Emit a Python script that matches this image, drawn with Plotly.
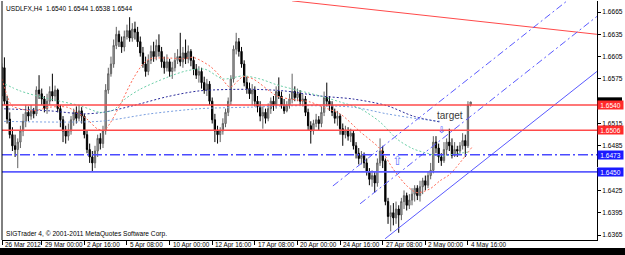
import plotly.graph_objects as go

# ---------------- data ----------------
bar_open = [1.6560,1.6552,1.6590,1.6545,1.6521,1.6500,1.6485,1.6480,1.6490,1.6505,
            1.6518,1.6530,1.6525,1.6532,1.6528,1.6560,1.6555,1.6548,1.6535,1.6545,
            1.6558,1.6552,1.6560,1.6535,1.6520,1.6505,1.6498,1.6505,1.6520,1.6530,
            1.6522,1.6532,1.6525,1.6500,1.6480,1.6470,1.6462,1.6478,1.6495,1.6488,
            1.6505,1.6560,1.6582,1.6595,1.6620,1.6635,1.6625,1.6618,1.6632,1.6640,
            1.6630,1.6642,1.6638,1.6625,1.6610,1.6595,1.6585,1.6600,1.6612,1.6605,
            1.6620,1.6612,1.6598,1.6590,1.6598,1.6585,1.6590,1.6600,1.6605,1.6598,
            1.6610,1.6602,1.6612,1.6600,1.6588,1.6580,1.6585,1.6570,1.6560,1.6568,
            1.6545,1.6520,1.6505,1.6500,1.6505,1.6515,1.6530,1.6545,1.6575,1.6615,
            1.6625,1.6612,1.6595,1.6570,1.6562,1.6555,1.6560,1.6545,1.6538,1.6525,
            1.6530,1.6522,1.6535,1.6545,1.6540,1.6558,1.6552,1.6540,1.6532,1.6540,
            1.6548,1.6558,1.6550,1.6555,1.6545,1.6548,1.6530,1.6512,1.6505,1.6515,
            1.6520,1.6515,1.6530,1.6550,1.6545,1.6540,1.6530,1.6522,1.6525,1.6508,
            1.6500,1.6505,1.6498,1.6502,1.6485,1.6475,1.6468,1.6472,1.6462,1.6450,
            1.6440,1.6445,1.6435,1.6462,1.6478,1.6465,1.6410,1.6390,1.6395,1.6388,
            1.6400,1.6392,1.6410,1.6418,1.6405,1.6412,1.6420,1.6428,1.6418,1.6430,
            1.6438,1.6432,1.6445,1.6452,1.6490,1.6482,1.6470,1.6465,1.6480,1.6490,
            1.6485,1.6472,1.6480,1.6478,1.6485,1.6492,1.6485,1.6540]
bar_high = [1.6568,1.6596,1.6604,1.6552,1.6530,1.6510,1.6500,1.6495,1.6512,1.6528,
            1.6540,1.6538,1.6540,1.6536,1.6565,1.6580,1.6562,1.6552,1.6555,1.6565,
            1.6582,1.6566,1.6562,1.6540,1.6525,1.6512,1.6515,1.6525,1.6535,1.6538,
            1.6540,1.6537,1.6528,1.6505,1.6488,1.6478,1.6485,1.6500,1.6502,1.6512,
            1.6568,1.6590,1.6605,1.6628,1.6645,1.6640,1.6632,1.6640,1.6648,1.6658,
            1.6650,1.6652,1.6645,1.6632,1.6618,1.6605,1.6608,1.6620,1.6625,1.6628,
            1.6635,1.6618,1.6605,1.6608,1.6602,1.6598,1.6610,1.6615,1.6637,1.6618,
            1.6628,1.6620,1.6615,1.6605,1.6595,1.6592,1.6590,1.6578,1.6575,1.6572,
            1.6550,1.6528,1.6512,1.6510,1.6522,1.6535,1.6550,1.6580,1.6620,1.6637,
            1.6630,1.6618,1.6600,1.6578,1.6570,1.6568,1.6565,1.6552,1.6545,1.6538,
            1.6535,1.6542,1.6550,1.6552,1.6565,1.6577,1.6558,1.6548,1.6545,1.6555,
            1.6582,1.6565,1.6562,1.6560,1.6555,1.6552,1.6535,1.6518,1.6520,1.6528,
            1.6525,1.6538,1.6558,1.6570,1.6552,1.6545,1.6535,1.6532,1.6528,1.6515,
            1.6512,1.6510,1.6508,1.6505,1.6490,1.6482,1.6478,1.6476,1.6468,1.6455,
            1.6452,1.6450,1.6468,1.6495,1.6485,1.6468,1.6415,1.6405,1.6408,1.6410,
            1.6405,1.6415,1.6425,1.6422,1.6420,1.6428,1.6432,1.6432,1.6438,1.6442,
            1.6445,1.6450,1.6462,1.6498,1.6498,1.6488,1.6475,1.6490,1.6495,1.6508,
            1.6495,1.6490,1.6485,1.6490,1.6502,1.6500,1.6545,1.6544]
bar_low = [1.6548,1.6548,1.6540,1.6515,1.6495,1.6478,1.6470,1.6455,1.6482,1.6498,
           1.6510,1.6518,1.6520,1.6522,1.6525,1.6548,1.6540,1.6530,1.6528,1.6540,
           1.6545,1.6545,1.6530,1.6510,1.6490,1.6488,1.6492,1.6500,1.6512,1.6515,
           1.6518,1.6515,1.6495,1.6475,1.6462,1.6450,1.6455,1.6470,1.6480,1.6482,
           1.6500,1.6555,1.6578,1.6590,1.6615,1.6618,1.6610,1.6612,1.6628,1.6625,
           1.6625,1.6628,1.6618,1.6605,1.6590,1.6578,1.6580,1.6595,1.6598,1.6600,
           1.6605,1.6590,1.6582,1.6585,1.6578,1.6575,1.6585,1.6595,1.6592,1.6590,
           1.6595,1.6596,1.6592,1.6580,1.6575,1.6570,1.6562,1.6555,1.6552,1.6540,
           1.6515,1.6490,1.6488,1.6490,1.6500,1.6510,1.6525,1.6540,1.6570,1.6608,
           1.6605,1.6590,1.6565,1.6555,1.6548,1.6540,1.6538,1.6530,1.6518,1.6508,
           1.6515,1.6518,1.6528,1.6532,1.6535,1.6548,1.6535,1.6528,1.6530,1.6535,
           1.6542,1.6545,1.6545,1.6540,1.6538,1.6525,1.6505,1.6488,1.6500,1.6510,
           1.6505,1.6510,1.6525,1.6538,1.6532,1.6525,1.6515,1.6512,1.6500,1.6485,
           1.6495,1.6492,1.6490,1.6480,1.6468,1.6460,1.6460,1.6455,1.6445,1.6432,
           1.6430,1.6422,1.6430,1.6458,1.6455,1.6405,1.6380,1.6370,1.6378,1.6380,
           1.6368,1.6385,1.6400,1.6398,1.6400,1.6405,1.6410,1.6412,1.6410,1.6420,
           1.6425,1.6428,1.6440,1.6448,1.6475,1.6462,1.6458,1.6462,1.6472,1.6478,
           1.6468,1.6470,1.6470,1.6475,1.6480,1.6470,1.6482,1.6538]
bar_close = [1.6552,1.6591,1.6545,1.6521,1.6500,1.6485,1.6480,1.6490,1.6505,1.6518,
             1.6530,1.6525,1.6532,1.6528,1.6560,1.6555,1.6548,1.6535,1.6545,1.6558,
             1.6552,1.6560,1.6535,1.6520,1.6505,1.6498,1.6505,1.6520,1.6530,1.6522,
             1.6532,1.6525,1.6500,1.6480,1.6470,1.6462,1.6478,1.6495,1.6488,1.6505,
             1.6560,1.6582,1.6595,1.6620,1.6635,1.6625,1.6618,1.6632,1.6640,1.6630,
             1.6642,1.6638,1.6625,1.6610,1.6595,1.6585,1.6600,1.6612,1.6605,1.6620,
             1.6612,1.6598,1.6590,1.6598,1.6585,1.6590,1.6600,1.6605,1.6598,1.6610,
             1.6602,1.6612,1.6600,1.6588,1.6580,1.6585,1.6570,1.6560,1.6568,1.6545,
             1.6520,1.6505,1.6500,1.6505,1.6515,1.6530,1.6545,1.6575,1.6615,1.6625,
             1.6612,1.6595,1.6570,1.6562,1.6555,1.6560,1.6545,1.6538,1.6525,1.6530,
             1.6522,1.6535,1.6545,1.6540,1.6558,1.6552,1.6540,1.6532,1.6540,1.6548,
             1.6558,1.6550,1.6555,1.6545,1.6548,1.6530,1.6512,1.6505,1.6515,1.6520,
             1.6515,1.6530,1.6550,1.6545,1.6540,1.6530,1.6522,1.6525,1.6508,1.6500,
             1.6505,1.6498,1.6502,1.6485,1.6475,1.6468,1.6472,1.6462,1.6450,1.6440,
             1.6445,1.6435,1.6462,1.6478,1.6465,1.6410,1.6390,1.6395,1.6388,1.6400,
             1.6392,1.6410,1.6418,1.6405,1.6412,1.6420,1.6428,1.6418,1.6430,1.6438,
             1.6432,1.6445,1.6452,1.6490,1.6482,1.6470,1.6465,1.6480,1.6490,1.6485,
             1.6472,1.6480,1.6478,1.6485,1.6492,1.6485,1.6540,1.6544]
bar_index = list(range(len(bar_close)))

# moving averages (sampled: bar position, price)
ma_red_x = [1.1,4.8,7.8,12.7,19.1,25.5,29.2,33.0,36.8,39.4,41.6,45.4,50.3,54.0,56.6,64.2,69.0,72.8,
            79.2,82.9,86.7,91.6,95.3,104.3,109.2,116.7,121.6,128.0,135.5,143.0,147.9,153.1,156.9,
            161.7,165.5,169.3,177.9]
ma_red_y = [1.6575,1.6539,1.6535,1.6532,1.6537,1.6537,1.6530,1.6521,1.6508,1.6506,1.6515,1.6540,1.6575,
            1.6595,1.6602,1.6603,1.6602,1.6604,1.6592,1.6579,1.6564,1.6578,1.6575,1.6552,1.6548,1.6544,
            1.6537,1.6528,1.6504,1.6481,1.6454,1.6431,1.6422,1.6427,1.6438,1.6447,1.6485]
ma_teal_x = [2.2,7.8,15.4,22.9,30.4,37.9,42.8,47.3,52.9,63.0,70.5,77.3,84.0,91.6,97.9,104.3,111.8,
             120.5,128.0,135.5,143.0,149.4,155.4,161.7,165.5,171.1,176.8]
ma_teal_y = [1.6568,1.6559,1.6551,1.6545,1.6539,1.6530,1.6533,1.6548,1.6561,1.6577,1.6586,1.6588,
             1.6575,1.6579,1.6575,1.6567,1.6560,1.6552,1.6544,1.6535,1.6517,1.6494,1.6481,1.6474,
             1.6471,1.6474,1.6477]
ma_navy_x = [0.3,19.1,31.5,39.0,50.3,63.0,75.4,94.2,106.6,120.5,132.8,145.6,155.4,165.5]
ma_navy_y = [1.6535,1.6532,1.6528,1.6530,1.6539,1.6551,1.6559,1.6561,1.6559,1.6552,1.6548,1.6539,
             1.6525,1.6517]
ma_lblue_x = [0.3,37.9,56.6,75.4,94.2,113.0,132.8,145.6,158.0,165.5]
ma_lblue_y = [1.6518,1.6518,1.6528,1.6535,1.6537,1.6539,1.6537,1.6528,1.6521,1.6518]

# drawn objects
level_red = [1.6540, 1.6506]
level_blue_dashdot = 1.6473
level_blue_solid = 1.6450
red_trend_x = [110.0, 224.4]
red_trend_y = [1.6680, 1.6635]
upper_channel_x = [125.3, 213.2]
upper_channel_y = [1.6431, 1.6680]
middle_channel_x = [135.5, 224.4]
middle_channel_y = [1.6407, 1.6659]
lower_channel_x = [144.9, 224.4]
lower_channel_y = [1.6360, 1.6585]
arrow_up_pos = (149.7, 1.6465)
arrow_down_pos = (166.3, 1.6515)
target_pos = (169.3, 1.65165)
current_price = 1.6544

price_ticks = [1.6365,1.6395,1.6425,1.6455,1.6485,1.6515,1.6545,1.6575,1.6605,1.6635,1.6665]
hidden_ticks = [1.6545, 1.6455]   # covered by the price boxes in the reference
time_tick_bars = [1.09,16,32,48,64,80,96,112,128,144,160,176]
time_tick_labels = ["26 Mar 2012","29 Mar 00:00","2 Apr 16:00","5 Apr 08:00","10 Apr 00:00",
                    "12 Apr 16:00","17 Apr 08:00","20 Apr 00:00","24 Apr 16:00","27 Apr 08:00",
                    "2 May 00:00","4 May 16:00"]

FONT = "Liberation Sans, Arial, sans-serif"
RED = "#ff4a4a"
BLUE = "#4a4aff"

fig = go.Figure()

fig.add_trace(go.Candlestick(
    x=bar_index, open=bar_open, high=bar_high, low=bar_low, close=bar_close,
    increasing=dict(line=dict(color="#606060", width=1), fillcolor="#b8b8b8"),
    decreasing=dict(line=dict(color="#000000", width=1), fillcolor="#000000"),
    whiskerwidth=0, hoverinfo="skip", showlegend=False))

for xs, ys, col in [(ma_lblue_x, ma_lblue_y, "#7a9fe0"), (ma_navy_x, ma_navy_y, "#2a2a9a"),
                    (ma_teal_x, ma_teal_y, "#6ccfa8"), (ma_red_x, ma_red_y, "#ff6a55")]:
    fig.add_trace(go.Scatter(x=xs, y=ys, mode="lines",
                             line=dict(color=col, width=1, dash="2px,2px", shape="spline", smoothing=0.8),
                             hoverinfo="skip", showlegend=False))

for xs, ys, col, dash in [(red_trend_x, red_trend_y, RED, "solid"),
                          (upper_channel_x, upper_channel_y, "#5a5aff", "7px,3px,2px,3px"),
                          (middle_channel_x, middle_channel_y, "#5a5aff", "7px,3px,2px,3px"),
                          (lower_channel_x, lower_channel_y, "#5a5aff", "solid")]:
    fig.add_trace(go.Scatter(x=xs, y=ys, mode="lines", line=dict(color=col, width=1, dash=dash),
                             hoverinfo="skip", showlegend=False))

shapes = []
for lv in level_red:
    shapes.append(dict(type="line", xref="paper", x0=0, x1=1, yref="y", y0=lv, y1=lv,
                       line=dict(color=RED, width=1.6)))
shapes.append(dict(type="line", xref="paper", x0=0, x1=1, yref="y", y0=level_blue_dashdot,
                   y1=level_blue_dashdot, line=dict(color=BLUE, width=1.5, dash="10px,3px,2px,3px")))
shapes.append(dict(type="line", xref="paper", x0=0, x1=1, yref="y", y0=level_blue_solid,
                   y1=level_blue_solid, line=dict(color="#5c5cff", width=1.8)))
# left frame line and bottom dark strip
shapes.append(dict(type="line", xref="paper", x0=0, x1=0, yref="paper", y0=0, y1=1,
                   line=dict(color="#000000", width=1)))
shapes.append(dict(type="rect", xref="paper", x0=-0.02, x1=1.06, yref="paper", y0=-0.0335, y1=-0.07,
                   fillcolor="#000000", line=dict(width=0)))
# current-price marker (mostly hidden behind the 1.6540 label in the reference)
shapes.append(dict(type="rect", xref="paper", x0=1.0, x1=1.042, yref="y",
                   y0=current_price - 0.0004, y1=current_price + 0.00062,
                   fillcolor="#000000", line=dict(width=0)))
# sliver of the 1.6455 scale label peeking above the 1.6450 box
shapes.append(dict(type="rect", xref="paper", x0=1.0, x1=1.042, yref="y",
                   y0=level_blue_solid + 0.00052, y1=level_blue_solid + 0.00062,
                   fillcolor="#ffffff", line=dict(width=0)))

annotations = []
for b, t in zip(time_tick_bars, time_tick_labels):
    annotations.append(dict(x=b, xref="x", y=0, yref="paper", text=t, showarrow=False,
                            xanchor="left", yanchor="top", xshift=1, yshift=1,
                            font=dict(family=FONT, size=6.4, color="#000000")))

annotations.append(dict(x=0, xref="paper", y=1, yref="paper", xanchor="left", yanchor="top",
                        xshift=2, yshift=-2, showarrow=False,
                        text="USDLFX,H4  1.6540 1.6544 1.6538 1.6544",
                        font=dict(family=FONT, size=6.6, color="#000000")))
annotations.append(dict(x=0, xref="paper", y=0, yref="paper", xanchor="left", yanchor="bottom",
                        xshift=2, yshift=0, showarrow=False,
                        text="SIGTrader 4, © 2001-2011 MetaQuotes Software Corp.",
                        font=dict(family=FONT, size=6.6, color="#000000")))
annotations.append(dict(x=target_pos[0], y=target_pos[1], xref="x", yref="y", text="target",
                        showarrow=False, yanchor="bottom", borderpad=0,
                        font=dict(family=FONT, size=10, color="#3a3a3a")))
annotations.append(dict(x=arrow_up_pos[0], y=arrow_up_pos[1], xref="x", yref="y", text="⇧",
                        showarrow=False, borderpad=0,
                        font=dict(family="DejaVu Sans", size=13, color="#6a7cff")))
annotations.append(dict(x=arrow_down_pos[0], y=arrow_down_pos[1], xref="x", yref="y", text="⇩",
                        showarrow=False, yanchor="top", borderpad=0,
                        font=dict(family="DejaVu Sans", size=9, color="#4a5cff")))

price_boxes = [(level_red[0], "#ff2a2a"), (level_red[1], "#ff2a2a"),
               (level_blue_dashdot, "#1a1aff"), (level_blue_solid, "#1a1aff")]
for p, c in price_boxes:
    annotations.append(dict(x=1, xref="paper", y=p, yref="y", xanchor="left", yanchor="middle",
                            text=f"{p:.4f}", showarrow=False, bgcolor=c, width=25, height=8,
                            borderpad=0, align="center",
                            font=dict(family=FONT, size=6.6, color="#ffffff")))

fig.update_layout(
    width=625, height=255,
    margin=dict(l=2, r=28, t=1, b=15),
    paper_bgcolor="#ffffff", plot_bgcolor="#ffffff",
    showlegend=False,
    shapes=shapes, annotations=annotations,
    xaxis=dict(range=[1.09, 224.44], type="linear", rangeslider=dict(visible=False),
               showgrid=False, zeroline=False, showline=True, linecolor="#000000", linewidth=1,
               tickvals=time_tick_bars, ticks="outside", ticklen=4, tickcolor="#000000",
               showticklabels=False, fixedrange=True),
    yaxis=dict(range=[1.63583, 1.66798], side="right", showgrid=False, zeroline=False,
               showline=True, linecolor="#000000", linewidth=1,
               tickvals=price_ticks,
               ticktext=["" if v in hidden_ticks else f"{v:.4f}" for v in price_ticks],
               ticks="outside", ticklen=3, tickcolor="#000000",
               tickfont=dict(family=FONT, size=6.6, color="#000000"), fixedrange=True),
)

fig.write_html("out.html")
